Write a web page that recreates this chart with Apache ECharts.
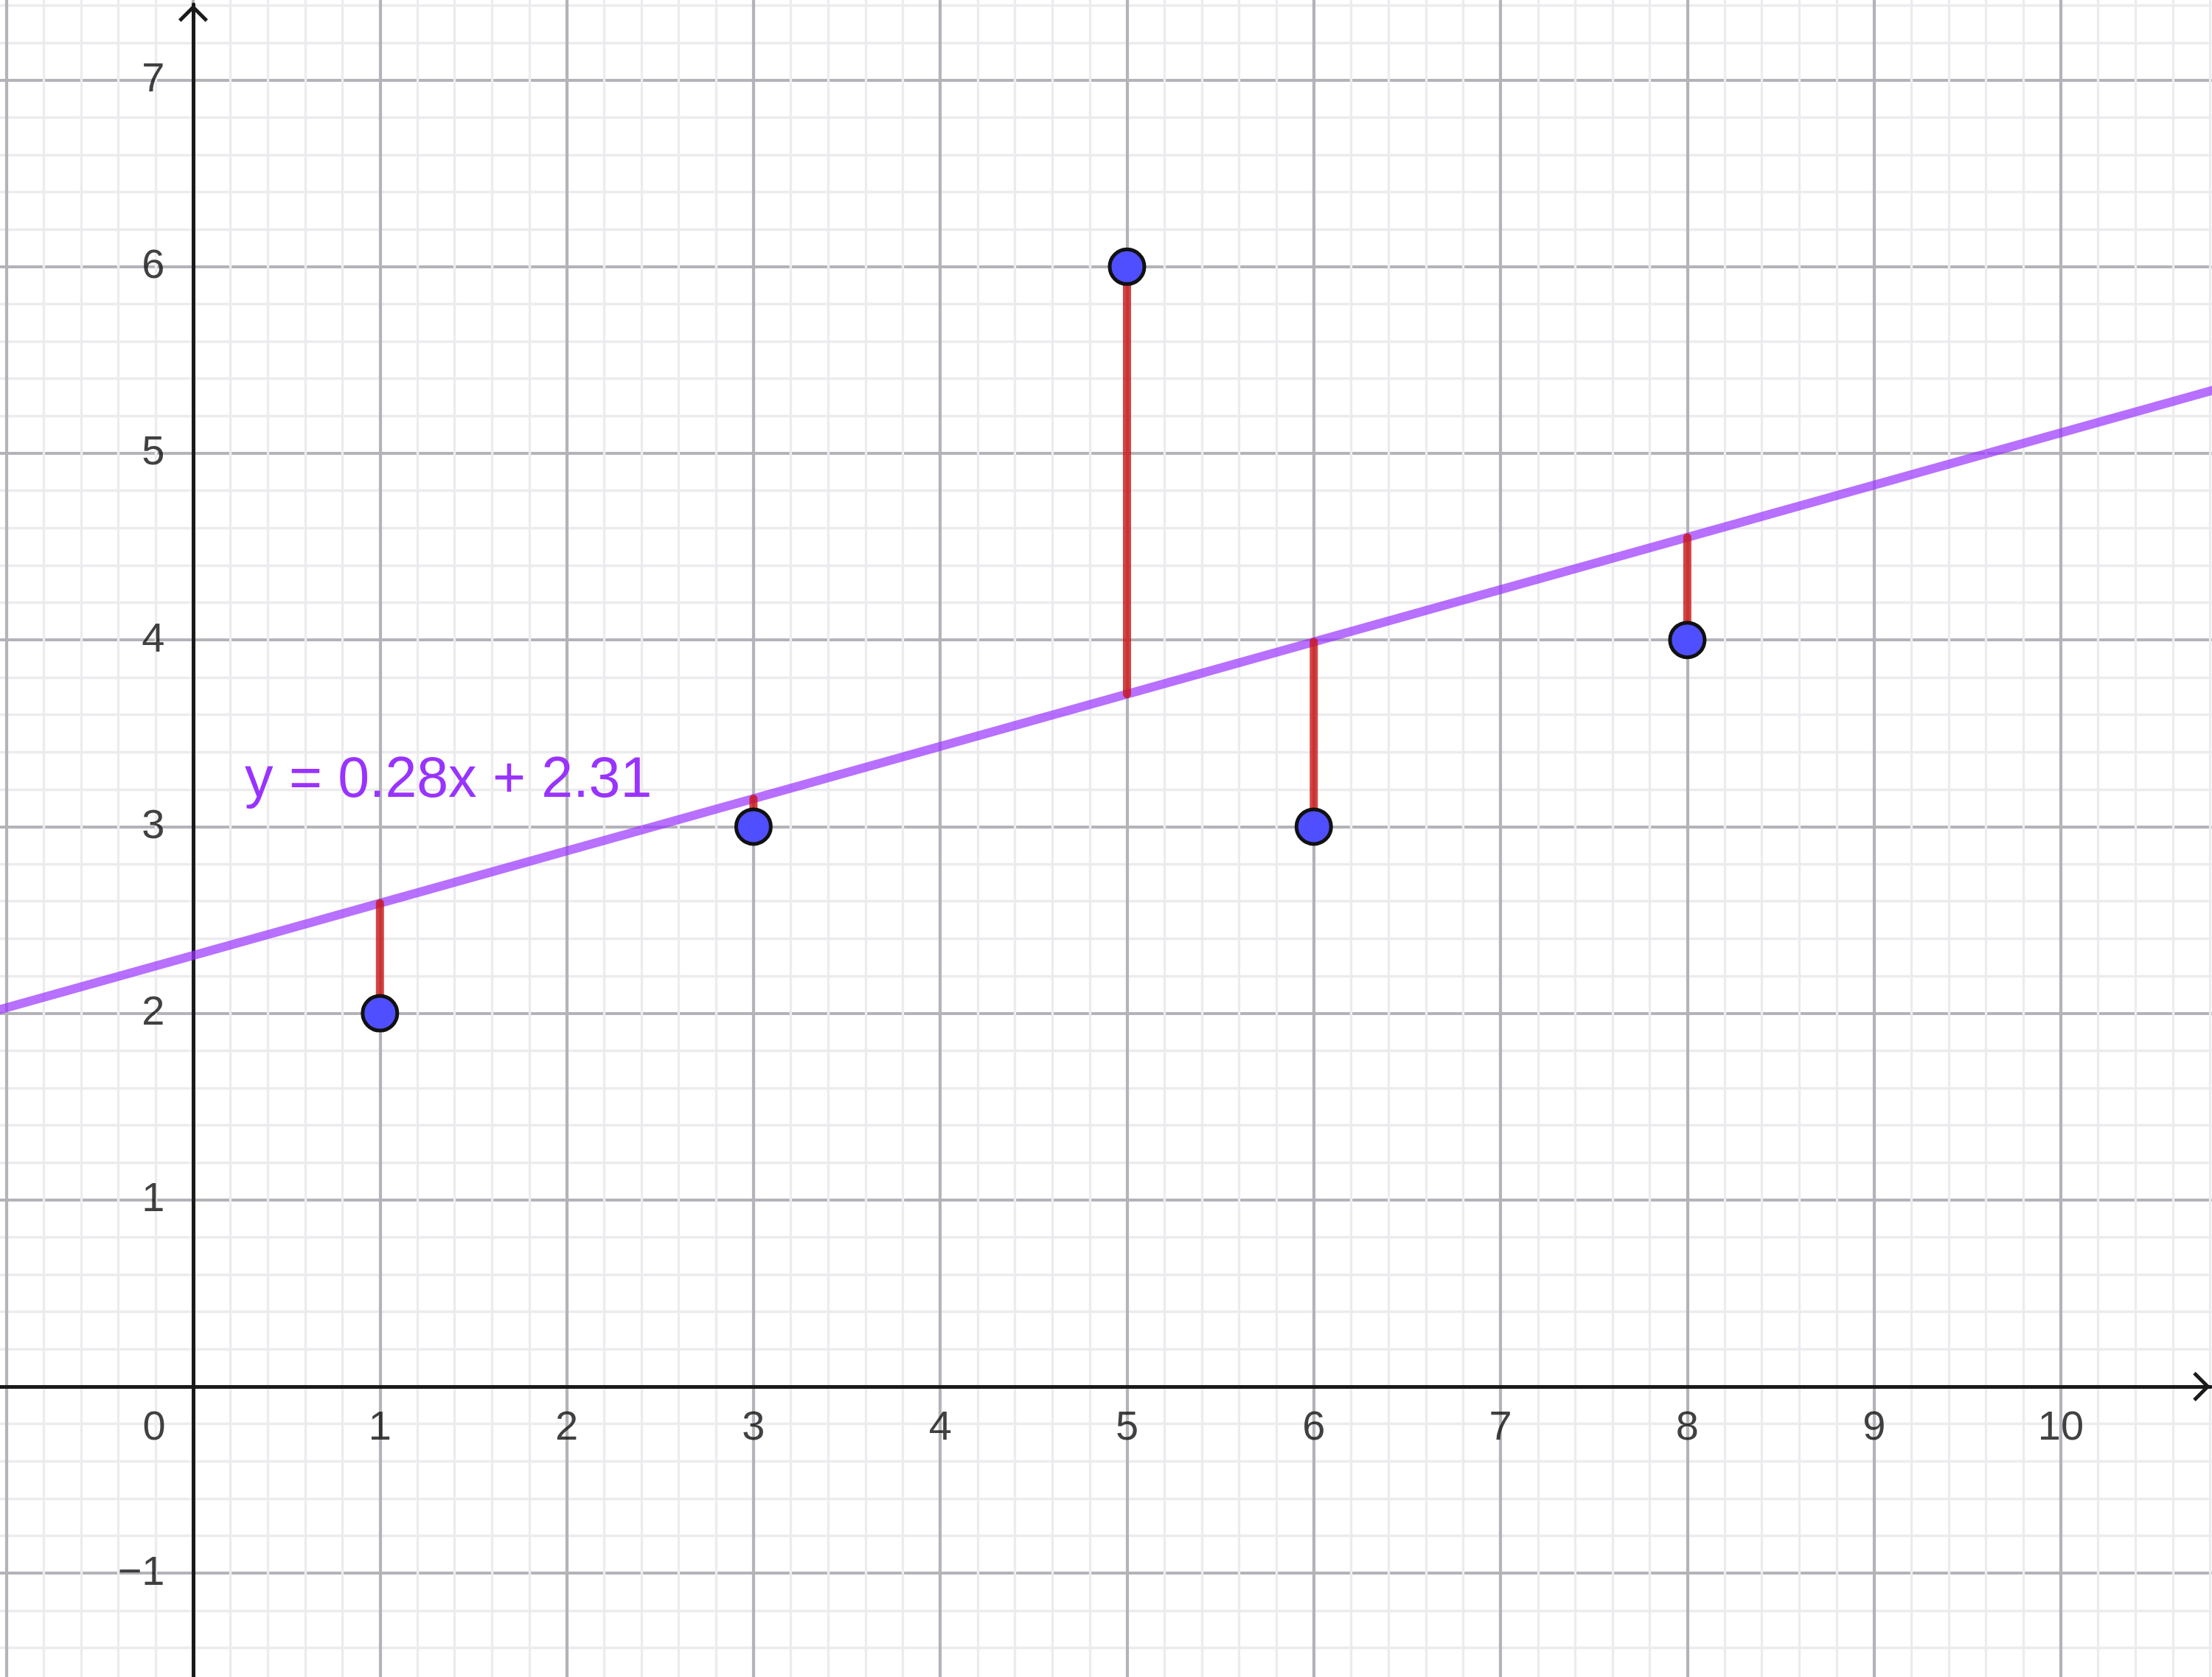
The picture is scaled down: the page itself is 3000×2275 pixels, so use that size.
<!DOCTYPE html>
<html>
<head>
<meta charset="utf-8">
<script src="https://cdn.jsdelivr.net/npm/echarts@6/dist/echarts.min.js"></script>
<style>
html,body{margin:0;padding:0;background:#fff;}
#c{width:3000px;height:2275px;}
</style>
</head>
<body>
<div id="c"></div>
<script>
// ---- data ----
const pointX = [1, 3, 5, 6, 8];
const pointY = [2, 3, 6, 3, 4];
const SLOPE = 0.28;
const INTERCEPT = 2.31;
const equationText = 'y = 0.28x + 2.31';
const xTickLabels = [0, 1, 2, 3, 4, 5, 6, 7, 8, 9, 10];
const yTickLabels = [-1, 1, 2, 3, 4, 5, 6, 7];
const xTickRange = [-2, 11];
const yTickRange = [-2, 8];

// ---- layout (pixels) ----
const W = 3000, H = 2275;
const OX = 262, OY = 1881;     // pixel position of origin
const UX = 253.3, UY = 253.2;  // pixels per unit
const ARROW_X_END = 2998, ARROW_Y_END = 6;
const BIG = {left: -3000, top: -3000, right: -3000, bottom: -3000};

const fmtNum = v => (v < 0 ? '\u2212' + Math.abs(v) : String(v));

const chart = echarts.init(document.getElementById('c'), null, {renderer: 'canvas'});

const majorLine = {show: true, lineStyle: {color: '#b3b3b9', width: 4.2}};
const minorLine = {show: true, lineStyle: {color: '#ececef', width: 3.3}};
const tickFont = {fontSize: 56, color: '#111111'};

const chevron = 'path://M20,0 L40,20 L36.5,23.5 L20,7 L3.5,23.5 L0,20 Z';

const fitted = pointX.map((x, i) => [x, pointY[i], SLOPE * x + INTERCEPT]);
const lineData = xTickRange.map(x => [x, SLOPE * x + INTERCEPT]);

const xLabelData = xTickLabels.map(v => [v, 0]);
const yLabelData = yTickLabels.map(v => [0, v]);

const option = {
  animation: false,
  backgroundColor: '#ffffff',
  grid: [
    {
      left: OX - (0 - xTickRange[0]) * UX,
      width: (xTickRange[1] - xTickRange[0]) * UX,
      top: OY - yTickRange[1] * UY,
      height: (yTickRange[1] - yTickRange[0]) * UY,
      outerBounds: BIG
    },
    {
      left: 0, top: ARROW_Y_END, right: W - ARROW_X_END, bottom: 0,
      outerBounds: BIG
    }
  ],
  xAxis: [
    {
      type: 'value', gridIndex: 0,
      min: xTickRange[0], max: xTickRange[1], interval: 1,
      axisLine: {show: false},
      axisTick: {show: false},
      axisLabel: {show: false},
      minorTick: {show: false, splitNumber: 5},
      splitLine: majorLine,
      minorSplitLine: minorLine
    },
    {
      type: 'value', gridIndex: 1,
      min: (0 - OX) / UX, max: (ARROW_X_END - OX) / UX,
      axisLine: {show: true, onZero: true, symbol: ['none', chevron], symbolSize: [40, 24], symbolOffset: [0, -12],
                 lineStyle: {color: '#1a1a1a', width: 5}},
      axisTick: {show: false},
      splitLine: {show: false},
      axisLabel: {show: false}
    }
  ],
  yAxis: [
    {
      type: 'value', gridIndex: 0,
      min: yTickRange[0], max: yTickRange[1], interval: 1,
      axisLine: {show: false},
      axisTick: {show: false},
      axisLabel: {show: false},
      minorTick: {show: false, splitNumber: 5},
      splitLine: majorLine,
      minorSplitLine: minorLine
    },
    {
      type: 'value', gridIndex: 1,
      min: -(H - OY) / UY, max: (OY - ARROW_Y_END) / UY,
      axisLine: {show: true, onZero: true, symbol: ['none', chevron], symbolSize: [40, 24], symbolOffset: [0, -12],
                 lineStyle: {color: '#1a1a1a', width: 5}},
      axisTick: {show: false},
      splitLine: {show: false},
      axisLabel: {show: false}
    }
  ],
  series: [
    {
      type: 'line', xAxisIndex: 0, yAxisIndex: 0,
      data: lineData, symbol: 'none', z: 3, silent: true,
      lineStyle: {color: 'rgba(153,51,255,0.7)', width: 12}
    },
    {
      type: 'custom', xAxisIndex: 0, yAxisIndex: 0, z: 4, silent: true,
      data: fitted,
      renderItem: function (params, api) {
        const p1 = api.coord([api.value(0), api.value(1)]);
        const p2 = api.coord([api.value(0), api.value(2)]);
        return {
          type: 'line',
          shape: {x1: p1[0], y1: p1[1], x2: p2[0], y2: p2[1]},
          style: {stroke: 'rgba(204,20,20,0.8)', lineWidth: 11, lineCap: 'round'}
        };
      }
    },
    {
      type: 'scatter', xAxisIndex: 0, yAxisIndex: 0, z: 5,
      data: pointX.map((x, i) => [x, pointY[i]]),
      symbol: 'circle', symbolSize: 47,
      itemStyle: {color: '#4f4fff', borderColor: '#111111', borderWidth: 5, opacity: 1}
    },
    {
      // x-axis tick labels
      type: 'scatter', xAxisIndex: 0, yAxisIndex: 0, z: 6, silent: true,
      data: xLabelData,
      symbol: 'circle', symbolSize: 1,
      itemStyle: {color: 'rgba(0,0,0,0)'},
      label: Object.assign({
        show: true, position: 'bottom', distance: 28,
        formatter: p => (p.value[0] === 0 ? '{z|0}' : fmtNum(p.value[0])),
        rich: {z: Object.assign({padding: [0, 106, 0, 0]}, tickFont)}
      }, tickFont),
      labelLayout: {hideOverlap: false}
    },
    {
      // y-axis tick labels
      type: 'scatter', xAxisIndex: 0, yAxisIndex: 0, z: 6, silent: true,
      data: yLabelData,
      symbol: 'circle', symbolSize: 1,
      itemStyle: {color: 'rgba(0,0,0,0)'},
      label: Object.assign({
        show: true, position: 'left', distance: 38,
        formatter: p => fmtNum(p.value[1])
      }, tickFont),
      labelLayout: {hideOverlap: false}
    }
  ],
  graphic: [
    {
      type: 'text', z: 10,
      x: 332, y: 1060,
      style: {
        text: equationText,
        fill: '#9933ff',
        font: '77px "Liberation Sans", Arial, sans-serif',
        textVerticalAlign: 'middle', verticalAlign: 'middle'
      }
    }
  ]
};
chart.setOption(option);
</script>
</body>
</html>
